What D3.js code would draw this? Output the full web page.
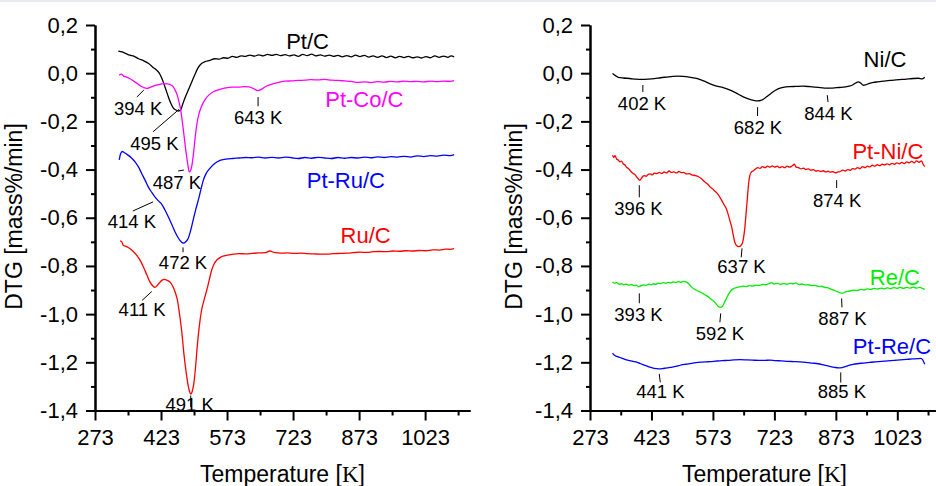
<!DOCTYPE html>
<html><head><meta charset="utf-8">
<script src="https://cdn.jsdelivr.net/npm/d3@7/dist/d3.min.js"></script>
<style>
html,body{margin:0;padding:0;background:#fff;}
svg{display:block;font-family:"Liberation Sans",Arial,sans-serif;}
</style></head>
<body>
<svg id="chart" width="936" height="486"></svg>
<script>
// ---------- DATA ----------
const xMajorTicks = [273, 423, 573, 723, 873, 1023];
const xMinorTicks = [348, 498, 648, 798, 948, 1098];
const yMajorTicks = [0.2, 0.0, -0.2, -0.4, -0.6, -0.8, -1.0, -1.2, -1.4];
const yMinorTicks = [0.1, -0.1, -0.3, -0.5, -0.7, -0.9, -1.1, -1.3];
const xTitle = "Temperature [";
const xTitleK = "K";
const yTitle = "DTG [mass%/min]";

// Left panel series: [temperature K, DTG mass%/min]
const ptC = [[326,0.092],[335,0.088],[345,0.08],[352,0.075],[362,0.07],[372,0.06],[383,0.052],[395,0.04],[405,0.024],[412,0.014],[419,0.0],[424,-0.018],[428,-0.036],[434,-0.068],[440,-0.1],[446,-0.128],[451,-0.145],[457,-0.153],[463,-0.157],[468,-0.152],[472,-0.13],[478,-0.1],[485,-0.07],[492,-0.04],[500,-0.005],[507,0.022],[515,0.04],[523,0.048],[534,0.053],[545,0.06],[555,0.058],[565,0.064],[575,0.062],[585,0.07],[595,0.066],[605,0.072],[615,0.07],[625,0.075],[635,0.071],[645,0.076],[655,0.072],[665,0.078],[675,0.074],[685,0.078],[695,0.073],[705,0.077],[715,0.072],[725,0.076],[735,0.07],[745,0.078],[755,0.073],[765,0.079],[775,0.072],[785,0.076],[795,0.071],[805,0.075],[815,0.07],[825,0.074],[835,0.068],[845,0.073],[855,0.068],[865,0.075],[875,0.069],[885,0.074],[895,0.067],[905,0.072],[915,0.066],[925,0.072],[935,0.065],[945,0.071],[955,0.064],[965,0.07],[975,0.065],[985,0.07],[995,0.064],[1005,0.068],[1015,0.063],[1025,0.069],[1035,0.064],[1045,0.072],[1055,0.066],[1065,0.071],[1075,0.066],[1082,0.072],[1089,0.068]];
const ptCoC = [[328,-0.008],[333,-0.004],[338,-0.012],[345,-0.016],[352,-0.022],[360,-0.032],[368,-0.042],[376,-0.052],[384,-0.06],[391,-0.063],[397,-0.06],[404,-0.055],[412,-0.05],[420,-0.046],[428,-0.043],[436,-0.044],[443,-0.046],[450,-0.055],[455,-0.07],[460,-0.092],[464,-0.12],[468,-0.155],[472,-0.21],[476,-0.27],[480,-0.33],[484,-0.38],[487,-0.41],[490,-0.405],[493,-0.385],[497,-0.33],[501,-0.26],[505,-0.205],[509,-0.17],[515,-0.138],[523,-0.11],[532,-0.09],[542,-0.077],[555,-0.068],[570,-0.061],[585,-0.058],[600,-0.058],[612,-0.056],[622,-0.057],[632,-0.063],[643,-0.072],[652,-0.066],[662,-0.054],[675,-0.045],[690,-0.038],[705,-0.033],[720,-0.032],[735,-0.03],[750,-0.029],[765,-0.027],[780,-0.028],[795,-0.026],[810,-0.029],[825,-0.03],[840,-0.032],[855,-0.034],[870,-0.038],[885,-0.036],[900,-0.039],[915,-0.035],[930,-0.037],[945,-0.034],[960,-0.036],[975,-0.033],[990,-0.035],[1005,-0.034],[1020,-0.036],[1035,-0.033],[1050,-0.035],[1065,-0.033],[1080,-0.034],[1089,-0.031]];
const ptRuC = [[328,-0.36],[331,-0.335],[335,-0.325],[340,-0.33],[348,-0.34],[356,-0.352],[364,-0.368],[372,-0.39],[379,-0.416],[387,-0.445],[394,-0.472],[402,-0.495],[409,-0.513],[416,-0.528],[424,-0.542],[432,-0.568],[440,-0.598],[448,-0.63],[455,-0.659],[461,-0.68],[466,-0.694],[471,-0.703],[475,-0.705],[480,-0.698],[485,-0.685],[490,-0.655],[496,-0.61],[502,-0.565],[508,-0.525],[514,-0.48],[519,-0.445],[526,-0.415],[534,-0.395],[545,-0.375],[557,-0.362],[570,-0.357],[585,-0.354],[600,-0.352],[615,-0.35],[630,-0.351],[645,-0.348],[660,-0.352],[675,-0.349],[690,-0.352],[705,-0.348],[720,-0.351],[735,-0.354],[750,-0.35],[765,-0.353],[780,-0.349],[795,-0.352],[810,-0.354],[825,-0.35],[840,-0.353],[855,-0.35],[870,-0.352],[885,-0.348],[900,-0.351],[915,-0.347],[930,-0.35],[945,-0.346],[960,-0.348],[975,-0.345],[990,-0.348],[1005,-0.343],[1020,-0.346],[1035,-0.342],[1050,-0.344],[1065,-0.34],[1080,-0.342],[1089,-0.338]];
const ruC = [[330,-0.696],[334,-0.7],[337,-0.714],[345,-0.72],[352,-0.728],[360,-0.74],[368,-0.756],[376,-0.778],[383,-0.804],[391,-0.838],[398,-0.867],[404,-0.882],[409,-0.889],[414,-0.882],[419,-0.871],[425,-0.86],[430,-0.856],[437,-0.86],[444,-0.868],[450,-0.885],[455,-0.908],[460,-0.94],[466,-1.012],[470,-1.07],[475,-1.165],[480,-1.24],[485,-1.3],[488,-1.322],[491,-1.332],[494,-1.32],[497,-1.295],[501,-1.23],[505,-1.14],[510,-1.05],[515,-0.985],[521,-0.94],[527,-0.9],[533,-0.855],[538,-0.818],[544,-0.79],[550,-0.775],[560,-0.762],[572,-0.756],[585,-0.752],[600,-0.749],[615,-0.75],[630,-0.748],[645,-0.746],[660,-0.745],[670,-0.738],[680,-0.744],[695,-0.747],[710,-0.746],[725,-0.748],[740,-0.747],[755,-0.749],[770,-0.75],[785,-0.751],[800,-0.751],[815,-0.749],[830,-0.748],[845,-0.747],[860,-0.745],[875,-0.743],[890,-0.744],[905,-0.741],[920,-0.74],[935,-0.741],[950,-0.738],[965,-0.739],[980,-0.737],[995,-0.738],[1010,-0.736],[1025,-0.737],[1040,-0.733],[1055,-0.734],[1070,-0.73],[1080,-0.731],[1089,-0.728]];

// Right panel series
const niC = [[328,-0.001],[335,-0.01],[342,-0.017],[355,-0.02],[370,-0.022],[385,-0.025],[400,-0.026],[415,-0.025],[430,-0.023],[445,-0.019],[460,-0.016],[475,-0.013],[488,-0.012],[500,-0.013],[515,-0.016],[533,-0.022],[550,-0.032],[565,-0.043],[582,-0.054],[598,-0.06],[615,-0.07],[630,-0.083],[647,-0.098],[663,-0.109],[675,-0.114],[683,-0.115],[690,-0.113],[698,-0.106],[708,-0.093],[720,-0.077],[732,-0.065],[745,-0.059],[760,-0.056],[775,-0.055],[793,-0.054],[810,-0.056],[830,-0.059],[845,-0.062],[860,-0.062],[875,-0.06],[890,-0.058],[905,-0.054],[915,-0.048],[922,-0.04],[928,-0.036],[934,-0.042],[940,-0.05],[946,-0.048],[955,-0.042],[965,-0.038],[975,-0.036],[990,-0.033],[1005,-0.03],[1020,-0.028],[1035,-0.026],[1050,-0.024],[1062,-0.022],[1075,-0.021],[1083,-0.024],[1090,-0.017]];
const ptNiC = [[328,-0.34],[331,-0.35],[334,-0.342],[338,-0.356],[342,-0.36],[346,-0.368],[350,-0.365],[354,-0.376],[358,-0.38],[362,-0.39],[366,-0.395],[370,-0.402],[374,-0.41],[378,-0.416],[382,-0.42],[386,-0.428],[390,-0.437],[394,-0.445],[397,-0.44],[401,-0.43],[405,-0.425],[410,-0.428],[415,-0.42],[420,-0.418],[425,-0.422],[430,-0.415],[436,-0.417],[442,-0.412],[448,-0.416],[454,-0.41],[460,-0.414],[466,-0.406],[472,-0.412],[478,-0.41],[484,-0.414],[490,-0.408],[496,-0.413],[502,-0.412],[508,-0.418],[515,-0.417],[522,-0.422],[530,-0.425],[538,-0.43],[545,-0.438],[552,-0.45],[560,-0.46],[566,-0.472],[572,-0.48],[578,-0.49],[584,-0.5],[590,-0.515],[595,-0.53],[600,-0.545],[605,-0.56],[610,-0.585],[615,-0.615],[619,-0.64],[623,-0.675],[627,-0.705],[631,-0.716],[636,-0.72],[641,-0.716],[645,-0.705],[648,-0.68],[651,-0.64],[654,-0.58],[657,-0.52],[660,-0.46],[663,-0.425],[667,-0.41],[672,-0.405],[677,-0.398],[682,-0.392],[688,-0.395],[694,-0.388],[700,-0.392],[706,-0.386],[712,-0.39],[718,-0.385],[724,-0.39],[730,-0.386],[736,-0.392],[742,-0.388],[748,-0.392],[754,-0.386],[760,-0.39],[766,-0.385],[772,-0.378],[776,-0.39],[782,-0.392],[788,-0.397],[794,-0.394],[800,-0.4],[806,-0.397],[812,-0.403],[818,-0.4],[824,-0.406],[830,-0.404],[836,-0.408],[842,-0.405],[848,-0.41],[854,-0.407],[860,-0.411],[866,-0.409],[872,-0.414],[878,-0.41],[884,-0.408],[890,-0.402],[896,-0.406],[902,-0.4],[908,-0.403],[914,-0.396],[920,-0.398],[926,-0.392],[932,-0.396],[938,-0.388],[944,-0.392],[950,-0.386],[956,-0.389],[962,-0.382],[968,-0.386],[974,-0.38],[980,-0.384],[986,-0.378],[992,-0.381],[998,-0.376],[1004,-0.38],[1010,-0.374],[1016,-0.378],[1022,-0.372],[1028,-0.376],[1034,-0.37],[1040,-0.375],[1046,-0.368],[1052,-0.372],[1058,-0.366],[1064,-0.372],[1070,-0.364],[1076,-0.37],[1082,-0.364],[1086,-0.378],[1090,-0.388]];
const reC = [[328,-0.867],[333,-0.872],[338,-0.869],[344,-0.876],[350,-0.874],[356,-0.878],[362,-0.876],[368,-0.88],[374,-0.877],[380,-0.882],[386,-0.88],[392,-0.886],[398,-0.882],[404,-0.879],[410,-0.881],[416,-0.876],[422,-0.878],[428,-0.874],[434,-0.876],[440,-0.871],[446,-0.873],[452,-0.869],[458,-0.872],[464,-0.868],[470,-0.87],[476,-0.866],[482,-0.869],[488,-0.865],[494,-0.868],[500,-0.864],[506,-0.866],[510,-0.868],[515,-0.876],[521,-0.888],[528,-0.897],[535,-0.903],[542,-0.908],[549,-0.915],[556,-0.922],[563,-0.93],[570,-0.94],[576,-0.948],[581,-0.958],[586,-0.968],[591,-0.972],[596,-0.968],[601,-0.952],[606,-0.935],[611,-0.918],[617,-0.903],[623,-0.894],[630,-0.89],[638,-0.887],[646,-0.884],[654,-0.886],[662,-0.882],[670,-0.884],[678,-0.88],[686,-0.881],[694,-0.877],[702,-0.878],[710,-0.873],[716,-0.869],[722,-0.875],[730,-0.872],[738,-0.876],[746,-0.873],[754,-0.876],[762,-0.872],[769,-0.874],[776,-0.87],[782,-0.877],[790,-0.875],[798,-0.879],[806,-0.878],[814,-0.882],[822,-0.881],[830,-0.885],[838,-0.884],[846,-0.889],[854,-0.891],[862,-0.897],[870,-0.902],[878,-0.908],[884,-0.912],[890,-0.913],[896,-0.908],[902,-0.906],[910,-0.903],[918,-0.9],[926,-0.902],[934,-0.897],[942,-0.899],[950,-0.895],[958,-0.897],[966,-0.893],[974,-0.896],[982,-0.892],[990,-0.895],[998,-0.891],[1006,-0.894],[1014,-0.89],[1022,-0.893],[1030,-0.889],[1038,-0.893],[1046,-0.889],[1054,-0.892],[1062,-0.888],[1070,-0.892],[1078,-0.889],[1084,-0.893],[1090,-0.897]];
const ptReC = [[328,-1.162],[332,-1.17],[338,-1.175],[346,-1.18],[354,-1.185],[362,-1.19],[370,-1.193],[378,-1.196],[387,-1.199],[395,-1.205],[403,-1.21],[411,-1.215],[419,-1.22],[427,-1.224],[435,-1.226],[442,-1.227],[450,-1.226],[458,-1.224],[466,-1.222],[474,-1.22],[482,-1.217],[490,-1.214],[498,-1.21],[507,-1.208],[517,-1.205],[527,-1.202],[537,-1.2],[547,-1.199],[557,-1.198],[567,-1.197],[580,-1.195],[595,-1.193],[610,-1.192],[625,-1.19],[640,-1.189],[655,-1.19],[670,-1.191],[685,-1.192],[700,-1.192],[712,-1.191],[725,-1.193],[740,-1.194],[755,-1.196],[770,-1.197],[785,-1.198],[800,-1.2],[815,-1.203],[830,-1.206],[845,-1.212],[858,-1.217],[870,-1.221],[880,-1.223],[888,-1.222],[896,-1.218],[905,-1.213],[915,-1.209],[925,-1.206],[940,-1.203],[955,-1.2],[970,-1.198],[985,-1.196],[1000,-1.194],[1015,-1.192],[1030,-1.19],[1045,-1.188],[1060,-1.186],[1072,-1.185],[1080,-1.184],[1085,-1.19],[1090,-1.208]];

// Series names & label anchors (data coords: T, DTG)
const leftNames = ["Pt/C", "Pt-Co/C", "Pt-Ru/C", "Ru/C"];
const leftNameAnchors = [[756, 0.1], [885, -0.141], [843, -0.477], [888, -0.706]];
const rightNames = ["Ni/C", "Pt-Ni/C", "Re/C", "Pt-Re/C"];
const rightNameAnchors = [[993, 0.025], [1000, -0.357], [1017, -0.881], [1010, -1.167]];

// Peak annotations: label, label anchor [T, DTG], leader line [T1, v1, T2, v2]
const leftPeaks = [
  ["394 K", [371, -0.174], [368, -0.099, 384, -0.07]],
  ["495 K", [408, -0.32], [405, -0.243, 464, -0.15]],
  ["643 K", [643.5, -0.211], [643.5, -0.099, 643.5, -0.137]],
  ["487 K", [459, -0.479], [462, -0.406, 475, -0.402]],
  ["414 K", [357, -0.644], [359, -0.572, 405, -0.534]],
  ["472 K", [473, -0.814], [473, -0.723, 473, -0.743]],
  ["411 K", [380, -1.009], [380, -0.943, 402, -0.906]],
  ["491 K", [488, -1.4], [490.5, -1.338, 490.5, -1.386]]
];
const rightPeaks = [
  ["402 K", [400, -0.153], [402, -0.049, 402, -0.078]],
  ["682 K", [683, -0.253], [682, -0.141, 682, -0.178]],
  ["844 K", [855, -0.195], [852, -0.091, 854, -0.12]],
  ["396 K", [391.4, -0.59], [393.3, -0.465, 393.3, -0.515]],
  ["874 K", [876, -0.556], [875, -0.444, 875, -0.477]],
  ["637 K", [642.8, -0.831], [644, -0.727, 642, -0.764]],
  ["393 K", [391.4, -1.029], [393.3, -0.914, 393.3, -0.955]],
  ["592 K", [590.3, -1.109], [592, -0.997, 590, -1.034]],
  ["887 K", [889.3, -1.047], [887, -0.935, 888, -0.972]],
  ["441 K", [445, -1.35], [442, -1.248, 444.5, -1.283]],
  ["885 K", [888, -1.35], [885, -1.242, 885, -1.284]]
];

// ---------- DRAW ----------
const svg = d3.select("#chart");
svg.append("rect").attr("x",0).attr("y",0).attr("width",936).attr("height",2).attr("fill","#e8ecf0");

const loc = d3.formatLocale({decimal: ",", thousands: ".", grouping: [3], currency: ["", ""], minus: "-"});
const yFmt = loc.format(".1f");

const y = d3.scaleLinear().domain([-1.4, 0.2]).range([410.5, 25]);

const panels = [
  {range: [95, 470], series: [ptC, ptCoC, ptRuC, ruC], colors: ["#000000", "#ff00ff", "#0000ff", "#ff0000"],
   names: leftNames, anchors: leftNameAnchors, peaks: leftPeaks, yTitleX: 22},
  {range: [590, 939.1], series: [niC, ptNiC, reC, ptReC], colors: ["#000000", "#ff0000", "#00ee00", "#0000ff"],
   names: rightNames, anchors: rightNameAnchors, peaks: rightPeaks, yTitleX: 522}
];

panels.forEach(p => {
  const x = d3.scaleLinear().domain([273, 1125]).range(p.range);
  const g = svg.append("g");

  // curves
  const line = d3.line().x(d => x(d[0])).y(d => y(d[1])).curve(d3.curveMonotoneX);
  p.series.forEach((s, i) => {
    g.append("path").attr("d", line(s)).attr("fill", "none")
      .attr("stroke", p.colors[i]).attr("stroke-width", 1.3).attr("stroke-linejoin", "round");
  });

  // axes
  const x0 = p.range[0];
  const yAxisMinor = d3.axisLeft(y).tickValues(yMinorTicks).tickSize(4).tickSizeOuter(0).tickFormat("");
  const yAxis = d3.axisLeft(y).tickValues(yMajorTicks).tickSize(9).tickSizeOuter(0).tickPadding(8).tickFormat(yFmt);
  const xAxisMinor = d3.axisBottom(x).tickValues(xMinorTicks).tickSize(5).tickSizeOuter(0).tickFormat("");
  const xAxis = d3.axisBottom(x).tickValues(xMajorTicks).tickSize(10).tickSizeOuter(0).tickPadding(9).tickFormat(d3.format("d"));

  const ya1 = g.append("g").attr("transform", `translate(${x0},0)`).call(yAxisMinor);
  const ya2 = g.append("g").attr("transform", `translate(${x0},0)`).call(yAxis);
  const xa1 = g.append("g").attr("transform", `translate(0,${y(-1.4)})`).call(xAxisMinor);
  const xa2 = g.append("g").attr("transform", `translate(0,${y(-1.4)})`).call(xAxis);
  [ya1, ya2, xa1, xa2].forEach(a => {
    a.selectAll("path,line").attr("stroke", "#000").attr("stroke-width", 2);
    a.selectAll("text").attr("font-size", 22).attr("fill", "#000")
      .attr("font-family", '"Liberation Sans", Arial, sans-serif');
  });

  // axis titles
  const xt = g.append("text").attr("x", (p.range[0] + p.range[1]) / 2).attr("y", 481.5)
    .attr("text-anchor", "middle").attr("font-size", 23).attr("fill", "#000");
  xt.append("tspan").text(xTitle);
  xt.append("tspan").text(xTitleK).attr("font-family", '"Liberation Serif", "Times New Roman", serif');
  xt.append("tspan").text("]");
  g.append("text").attr("transform", `translate(${p.yTitleX},216.5) rotate(-90)`)
    .attr("text-anchor", "middle").attr("font-size", 23).attr("fill", "#000").text(yTitle);

  // series labels
  p.names.forEach((n, i) => {
    g.append("text").attr("x", x(p.anchors[i][0])).attr("y", y(p.anchors[i][1]))
      .attr("text-anchor", "middle").attr("font-size", 22).attr("fill", p.colors[i]).text(n);
  });

  // peak annotations
  p.peaks.forEach(pk => {
    const ln = pk[2];
    g.append("line").attr("x1", x(ln[0])).attr("y1", y(ln[1])).attr("x2", x(ln[2])).attr("y2", y(ln[3]))
      .attr("stroke", "#000").attr("stroke-width", 1);
    g.append("text").attr("x", x(pk[1][0])).attr("y", y(pk[1][1]))
      .attr("text-anchor", "middle").attr("font-size", 18.5).attr("fill", "#000").text(pk[0]);
  });
});
</script>
</body></html>
